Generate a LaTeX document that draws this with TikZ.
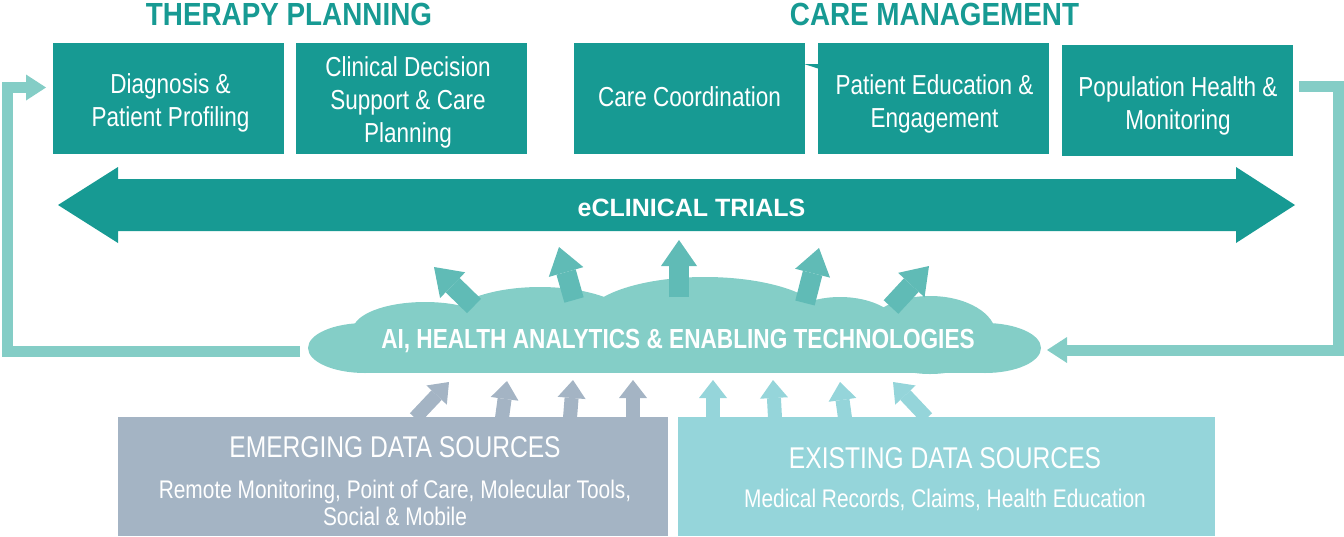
\documentclass[tikz,border=0pt]{standalone}
\usepackage{fontspec}
\setmainfont{Liberation Sans}
\newfontfamily\cnd{Liberation Sans}[FakeStretch=0.82]
\newfontfamily\ttlf{Liberation Sans}[FakeStretch=0.87]
\usetikzlibrary{arrows.meta}
\definecolor{tealbox}{HTML}{179A93}
\definecolor{cloudc}{HTML}{84CEC7}
\definecolor{cloudarr}{HTML}{60BBB6}
\definecolor{loopc}{HTML}{84CDC6}
\definecolor{emerg}{HTML}{A4B4C4}
\definecolor{exist}{HTML}{95D5DA}
\tikzset{
  titlestyle/.style={text=tealbox, inner sep=0pt, font=\ttlf\bfseries\fontsize{24}{28}\selectfont},
  topbox/.style={fill=tealbox, inner sep=0pt, minimum width=173.25pt, minimum height=83.25pt},
  boxtext/.style={text=white, inner sep=0pt, align=center,
    font=\cnd\fontsize{20.6}{24.75}\selectfont},
  srcbox/.style={inner sep=0pt, minimum height=89.25pt},
  srctitle/.style={text=white, inner sep=0pt, font=\cnd\fontsize{22.5}{26}\selectfont},
  srcsub/.style={text=white, inner sep=0pt, align=center, font=\cnd\fontsize{19.1}{22.5}\selectfont},
  cloudarrow/.style={draw=cloudarr, line width=15pt,
    -{Triangle[width=27pt,length=19.5pt,line width=0pt]}},
  srcarrow/.style={line width=10.5pt,
    -{Triangle[width=21pt,length=13.5pt,line width=0pt]}},
  loopline/.style={draw=loopc, line width=8.25pt, line join=miter,
    -{Triangle[width=19.5pt,length=15pt,line width=0pt]}},
}
\begin{document}
\begin{tikzpicture}[x=0.75pt,y=-0.75pt]
\useasboundingbox (0,0) rectangle (1344,536);

% titles
\node[titlestyle, anchor=base] (tp) at (289,25) {THERAPY PLANNING};
\node[titlestyle, anchor=base] (cm) at (934.5,25) {CARE MANAGEMENT};

% small sliver between boxes
\fill[tealbox] (804,64) -- (818,64) -- (818,68.5) -- cycle;

% top boxes
\node[topbox] (b1) at (168.5,98.5) {};
\node[topbox] (b2) at (411,98.5) {};
\node[topbox] (b3) at (689,98.5) {};
\node[topbox] (b4) at (933,98.5) {};
\node[topbox] (b5) at (1177,100.5) {};
\node[boxtext, anchor=base] (t1) at (170.5,126) {Diagnosis \&\\Patient Profiling};
\node[boxtext, anchor=base] (t2) at (408,142) {Clinical Decision\\Support \& Care\\Planning};
\node[boxtext, anchor=base] (t3) at (689.5,106) {Care Coordination};
\node[boxtext, anchor=base] (t4) at (934.5,127) {Patient Education \&\\Engagement};
\node[boxtext, anchor=base] (t5) at (1178,129) {Population Health \&\\Monitoring};

% eClinical trials double arrow
\fill[tealbox] (58,205) -- (118,167) -- (118,179) -- (1236,179) -- (1236,167)
  -- (1295,205) -- (1236,243) -- (1236,231) -- (118,231) -- (118,243) -- cycle;
\node[text=white, inner sep=0pt, anchor=base, font=\bfseries\fontsize{18.75}{22}\selectfont]
  (ect) at (691.5,216) {eCLINICAL TRIALS};

% cloud
\begin{scope}[fill=cloudc]
  \fill (365,348) ellipse [x radius=57, y radius=25];
  \fill (425,330) ellipse [x radius=72, y radius=28];
  \fill (540,325) ellipse [x radius=95, y radius=38];
  \fill (705,320) ellipse [x radius=120, y radius=43];
  \fill (840,330) ellipse [x radius=60, y radius=33];
  \fill (930,335) ellipse [x radius=66, y radius=39];
  \fill (985,348) ellipse [x radius=56, y radius=25];
  \fill (365,320) rectangle (985,373);
\end{scope}

% arrows out of the cloud
\draw[cloudarrow] (474,306) -- (434,267);
\draw[cloudarrow] (574,300) -- (559,247);
\draw[cloudarrow] (679,297) -- (679,240);
\draw[cloudarrow] (805,303) -- (819,248);
\draw[cloudarrow] (891,307) -- (929,266);

\node[text=white, inner sep=0pt, anchor=base, font=\cnd\bfseries\fontsize{20.7}{24}\selectfont]
  (cloud) at (678,348) {AI, HEALTH ANALYTICS \& ENABLING TECHNOLOGIES};

% loop arrows
\coordinate (cloudW) at (300,351);
\coordinate (cloudE) at (1047,350);
\coordinate (lt) at (46,87.5);
\coordinate (r0) at (1299,86.5);
\draw[loopline] (cloudW) -| (7,87.5) -- (lt);
\draw[loopline] (r0) -- (1338,86.5) |- (cloudE);

% arrows from sources into the cloud
\draw[srcarrow, draw=emerg] (415,418) -- (449,382);
\draw[srcarrow, draw=emerg] (502,418) -- (507,381);
\draw[srcarrow, draw=emerg] (570,418) -- (573,380);
\draw[srcarrow, draw=emerg] (633,418) -- (633,380);
\draw[srcarrow, draw=exist] (713,418) -- (713,380);
\draw[srcarrow, draw=exist] (775,418) -- (773,380);
\draw[srcarrow, draw=exist] (845,418) -- (840,382);
\draw[srcarrow, draw=exist] (927,418) -- (893,382);

% source boxes
\node[srcbox, fill=emerg, minimum width=412.5pt] (em) at (393,476.5) {};
\node[srcbox, fill=exist, minimum width=402.75pt] (ex) at (946.5,476.5) {};
\node[srctitle, anchor=base] (emt) at (395,457) {EMERGING DATA SOURCES};
\node[srcsub, anchor=base] (ems1) at (395,498) {Remote Monitoring, Point of Care, Molecular Tools,};
\node[srcsub, anchor=base] (ems2) at (395,525) {Social \& Mobile};
\node[srctitle, anchor=base] (ext) at (945,468) {EXISTING DATA SOURCES};
\node[srcsub, anchor=base] (exs) at (945,507) {Medical Records, Claims, Health Education};
\end{tikzpicture}
\end{document}
